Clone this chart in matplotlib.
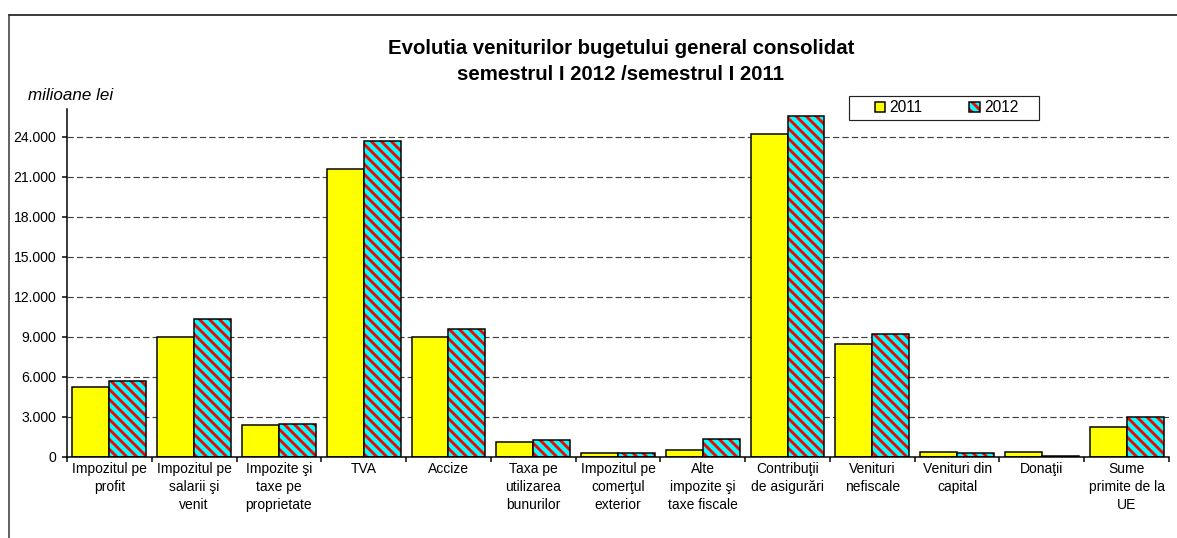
import matplotlib
matplotlib.use('Agg')
import matplotlib.pyplot as plt
from matplotlib.ticker import FuncFormatter
from matplotlib.lines import Line2D
from matplotlib.patches import Rectangle
from matplotlib.legend_handler import HandlerTuple
import numpy as np

# ---- data ----
categories = ["Impozitul pe\nprofit", "Impozitul pe\nsalarii şi\nvenit",
              "Impozite şi\ntaxe pe\nproprietate", "TVA", "Accize",
              "Taxa pe\nutilizarea\nbunurilor", "Impozitul pe\ncomerţul\nexterior",
              "Alte\nimpozite şi\ntaxe fiscale", "Contribuţii\nde asigurări",
              "Venituri\nnefiscale", "Venituri din\ncapital", "Donaţii",
              "Sume\nprimite de la\nUE"]
values_2011 = [5275, 9025, 2375, 21625, 9025, 1150, 280, 500, 24200, 8450, 375, 375, 2275]
values_2012 = [5725, 10375, 2500, 23725, 9625, 1250, 270, 1325, 25550, 9200, 275, 100, 3025]
series_labels = ["2011", "2012"]
y_ticks = [0, 3000, 6000, 9000, 12000, 15000, 18000, 21000, 24000]
title_text = "Evolutia veniturilor bugetului general consolidat\nsemestrul I 2012 /semestrul I 2011"
unit_text = "milioane lei"

# ---- style ----
plt.rcParams['font.family'] = ['Liberation Sans', 'DejaVu Sans']
plt.rcParams['hatch.linewidth'] = 1.7
HATCH = chr(92) * 4  # backslashes -> SE diagonal stripes

W, H, DPI = 1177, 538, 120
fig = plt.figure(figsize=(W / DPI, H / DPI), dpi=DPI)
fig.patch.set_facecolor('white')

def fx(px):
    return px / W

def fy(py):
    return 1 - py / H

ax = fig.add_axes([fx(67), fy(457), fx(1169) - fx(67), fy(109) - fy(457)])

x = np.arange(len(categories))
bw = 0.436
b1 = ax.bar(x - bw / 2, values_2011, width=bw, color='#FFFF00', edgecolor='black',
            linewidth=0.9, zorder=3)
b2h = ax.bar(x + bw / 2, values_2012, width=bw, color='#00FFFF', edgecolor='#FF0000',
             linewidth=0, hatch=HATCH, zorder=3)
b2e = ax.bar(x + bw / 2, values_2012, width=bw, fill=False, edgecolor='black',
             linewidth=0.9, zorder=4)

ax.set_xlim(-0.5, len(categories) - 0.5)
ax.set_ylim(0, 26100)
ax.set_yticks(y_ticks)
ax.yaxis.set_major_formatter(FuncFormatter(lambda v, p: f"{int(v):,}".replace(",", ".")))
ax.yaxis.grid(True, linestyle=(0, (5.4, 2.7)), color='#404040', linewidth=0.7, zorder=0)
ax.set_axisbelow(True)

ax.set_xticks(x)
ax.set_xticklabels(categories, fontsize=8.3, linespacing=1.35, va='top')
ax.set_xticks(np.arange(-0.5, len(categories)), minor=True)
ax.tick_params(axis='x', which='major', length=0, pad=3)
ax.tick_params(axis='x', which='minor', length=3, width=0.9, direction='out')
ax.tick_params(axis='y', length=3, width=0.9, direction='out', pad=3.5, labelsize=8.4)

for s in ['top', 'right']:
    ax.spines[s].set_visible(False)
for s in ['left', 'bottom']:
    ax.spines[s].set_linewidth(0.9)
    ax.spines[s].set_zorder(5)

# title and unit label
fig.text(fx(621), fy(61.5), title_text, ha='center', va='center', fontsize=12.2,
         fontweight='bold', linespacing=1.4)
fig.text(fx(28), fy(95), unit_text, ha='left', va='center', fontsize=10.2, style='italic')

# legend
leg = fig.legend([b1[0], (b2h[0], b2e[0])], series_labels, ncol=2,
                 handler_map={tuple: HandlerTuple(ndivide=1)},
                 loc='center left', bbox_to_anchor=(fx(875), fy(108)),
                 bbox_transform=fig.transFigure, frameon=False, fontsize=9.3,
                 handlelength=0.67, handleheight=0.67, handletextpad=0.27,
                 columnspacing=3.0, borderpad=0, borderaxespad=0)
fig.add_artist(Rectangle((fx(849), fy(120)), fx(1039) - fx(849), fy(96) - fy(120),
                         transform=fig.transFigure, fill=False, edgecolor='#222222',
                         linewidth=0.7))

# outer chart border (top and left)
fig.add_artist(Line2D([fx(9), fx(1177)], [fy(15), fy(15)], transform=fig.transFigure,
                      color='black', linewidth=0.9))
fig.add_artist(Line2D([fx(9), fx(9)], [fy(15), fy(538)], transform=fig.transFigure,
                      color='#333333', linewidth=0.9))

fig.savefig('out.png', dpi=DPI, facecolor='white')
